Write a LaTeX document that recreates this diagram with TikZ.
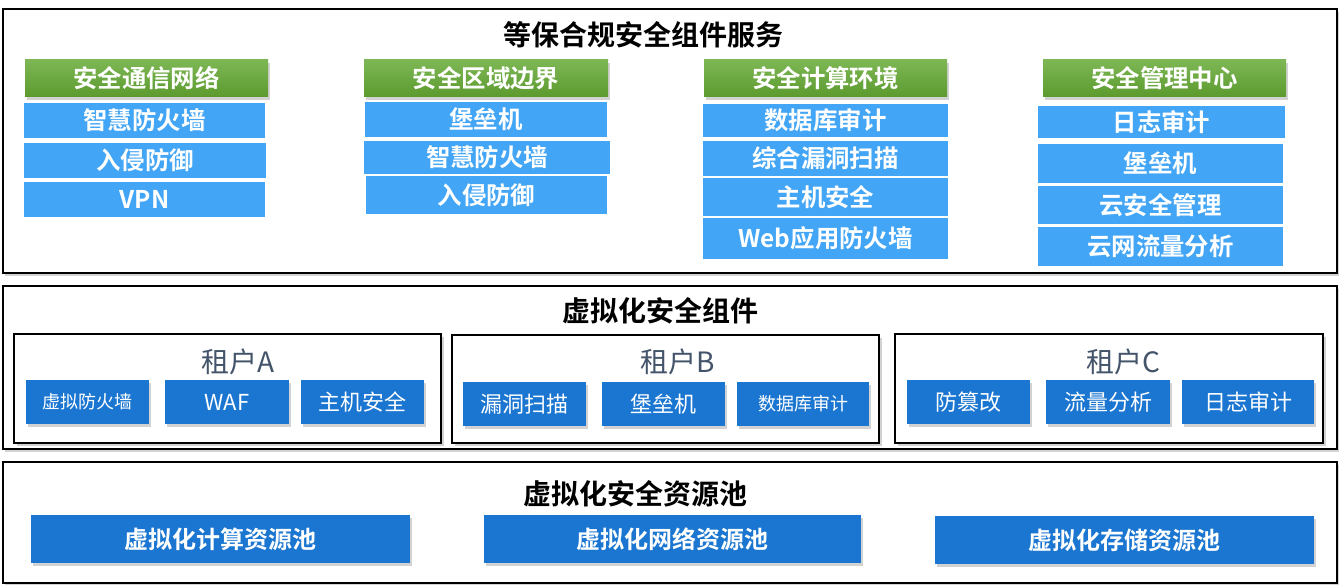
\documentclass[tikz,border=0pt]{standalone}
\usepackage{fontspec}
\setmainfont{Noto Sans CJK SC}[BoldFont={Noto Sans CJK SC Bold}]
\usetikzlibrary{shadows}
\definecolor{gtop}{RGB}{125,183,85}
\definecolor{gbot}{RGB}{92,154,46}
\definecolor{lblue}{RGB}{66,165,245}
\definecolor{dblue}{RGB}{27,118,209}
\definecolor{tgray}{RGB}{68,84,106}
\newcommand\bx[7]{\node[#1, minimum width={#5-#3}, minimum height={#6-#4}] (#2) at ({(#3+#5)/2},{(#4+#6)/2}) {#7};}
\tikzset{
  base/.style={inner sep=0pt, outer sep=0pt, align=center},
  outerbox/.style={base, draw=black, line width=2pt, fill=white, drop shadow={shadow xshift=2pt, shadow yshift=-3pt, opacity=0.35}},
  tenantbox/.style={base, draw=black, line width=2pt, fill=white, drop shadow={shadow xshift=3pt, shadow yshift=-3pt, opacity=0.35}},
  greenhead/.style={base, top color=gtop, bottom color=gbot, text=white, font=\bfseries\fontsize{24.4}{27}\selectfont, drop shadow={shadow xshift=2pt, shadow yshift=-3pt, opacity=0.35}},
  litem/.style={base, fill=lblue, text=white, font=\bfseries\fontsize{24.4}{27}\selectfont},
  ditem/.style={base, fill=dblue, text=white, font=\fontsize{22}{25}\selectfont, drop shadow={shadow xshift=2pt, shadow yshift=-3pt, opacity=0.35}},
  ditemsmall/.style={ditem, font=\fontsize{18}{20}\selectfont},
  pool/.style={base, fill=dblue, text=white, font=\bfseries\fontsize{24}{27}\selectfont, drop shadow={shadow xshift=2pt, shadow yshift=-3pt, opacity=0.35}},
  titletext/.style={base, text=black, font=\bfseries\fontsize{28}{31}\selectfont},
  tenanttext/.style={base, text=tgray, font=\fontsize{28}{31}\selectfont},
}
\begin{document}
\begin{tikzpicture}[x=1pt, y=-1pt]
\useasboundingbox (0,0) rectangle (1339,585);
% outer boxes
\bx{outerbox}{boxA}{3}{9}{1337}{273}{}
\bx{outerbox}{boxB}{3}{286}{1337}{449}{}
\bx{outerbox}{boxC}{3}{462}{1337}{583}{}
\node[titletext] (t1) at (643,35) {等保合规安全组件服务};
\node[titletext] (t2) at (660,311) {虚拟化安全组件};
\node[titletext] (t3) at (635,494) {虚拟化安全资源池};
% green headers
\bx{greenhead}{g1}{25}{60}{268}{97}{安全通信网络}
\bx{greenhead}{g2}{364}{60}{608}{97}{安全区域边界}
\bx{greenhead}{g3}{704}{60}{947}{97}{安全计算环境}
\bx{greenhead}{g4}{1043}{60}{1286}{97}{安全管理中心}
% column 1
\bx{litem}{c1a}{24}{103}{265}{138}{智慧防火墙}
\bx{litem}{c1b}{24}{143}{266}{178}{入侵防御}
\bx{litem}{c1c}{24}{182}{265}{217}{VPN}
% column 2
\bx{litem}{c2a}{365}{102}{607}{137}{堡垒机}
\bx{litem}{c2b}{364}{141}{610}{174}{智慧防火墙}
\bx{litem}{c2c}{366}{176}{607}{214}{入侵防御}
% column 3
\bx{litem}{c3a}{703}{104}{948}{137}{数据库审计}
\bx{litem}{c3b}{703}{141}{948}{176}{综合漏洞扫描}
\bx{litem}{c3c}{703}{178}{948}{216}{主机安全}
\bx{litem}{c3d}{703}{218}{948}{259}{Web应用防火墙}
% column 4
\bx{litem}{c4a}{1038}{106}{1285}{138}{日志审计}
\bx{litem}{c4b}{1038}{144}{1283}{183}{堡垒机}
\bx{litem}{c4c}{1038}{186}{1283}{224}{云安全管理}
\bx{litem}{c4d}{1038}{227}{1283}{266}{云网流量分析}
% tenants
\bx{tenantbox}{ta}{14}{334}{441}{443}{}
\bx{tenantbox}{tb}{452}{335}{879}{443}{}
\bx{tenantbox}{tc}{895}{334}{1323}{443}{}
\node[tenanttext] (la) at (238,362) {租户A};
\node[tenanttext] (lb) at (678,362) {租户B};
\node[tenanttext] (lc) at (1123,362) {租户C};
\bx{ditemsmall}{a1}{26}{380}{149}{424}{虚拟防火墙}
\bx{ditem}{a2}{165}{380}{289}{424}{WAF}
\bx{ditem}{a3}{301}{380}{424}{424}{主机安全}
\bx{ditem}{b1}{463}{382}{586}{426}{漏洞扫描}
\bx{ditem}{b2}{602}{382}{725}{426}{堡垒机}
\bx{ditemsmall}{b3}{737}{382}{869}{426}{数据库审计}
\bx{ditem}{c1}{907}{380}{1030}{424}{防篡改}
\bx{ditem}{c2}{1046}{380}{1170}{424}{流量分析}
\bx{ditem}{c3}{1182}{380}{1314}{424}{日志审计}
% pools
\bx{pool}{p1}{31}{515}{410}{563}{虚拟化计算资源池}
\bx{pool}{p2}{484}{515}{861}{563}{虚拟化网络资源池}
\bx{pool}{p3}{935}{516}{1314}{564}{虚拟化存储资源池}
\end{tikzpicture}
\end{document}
